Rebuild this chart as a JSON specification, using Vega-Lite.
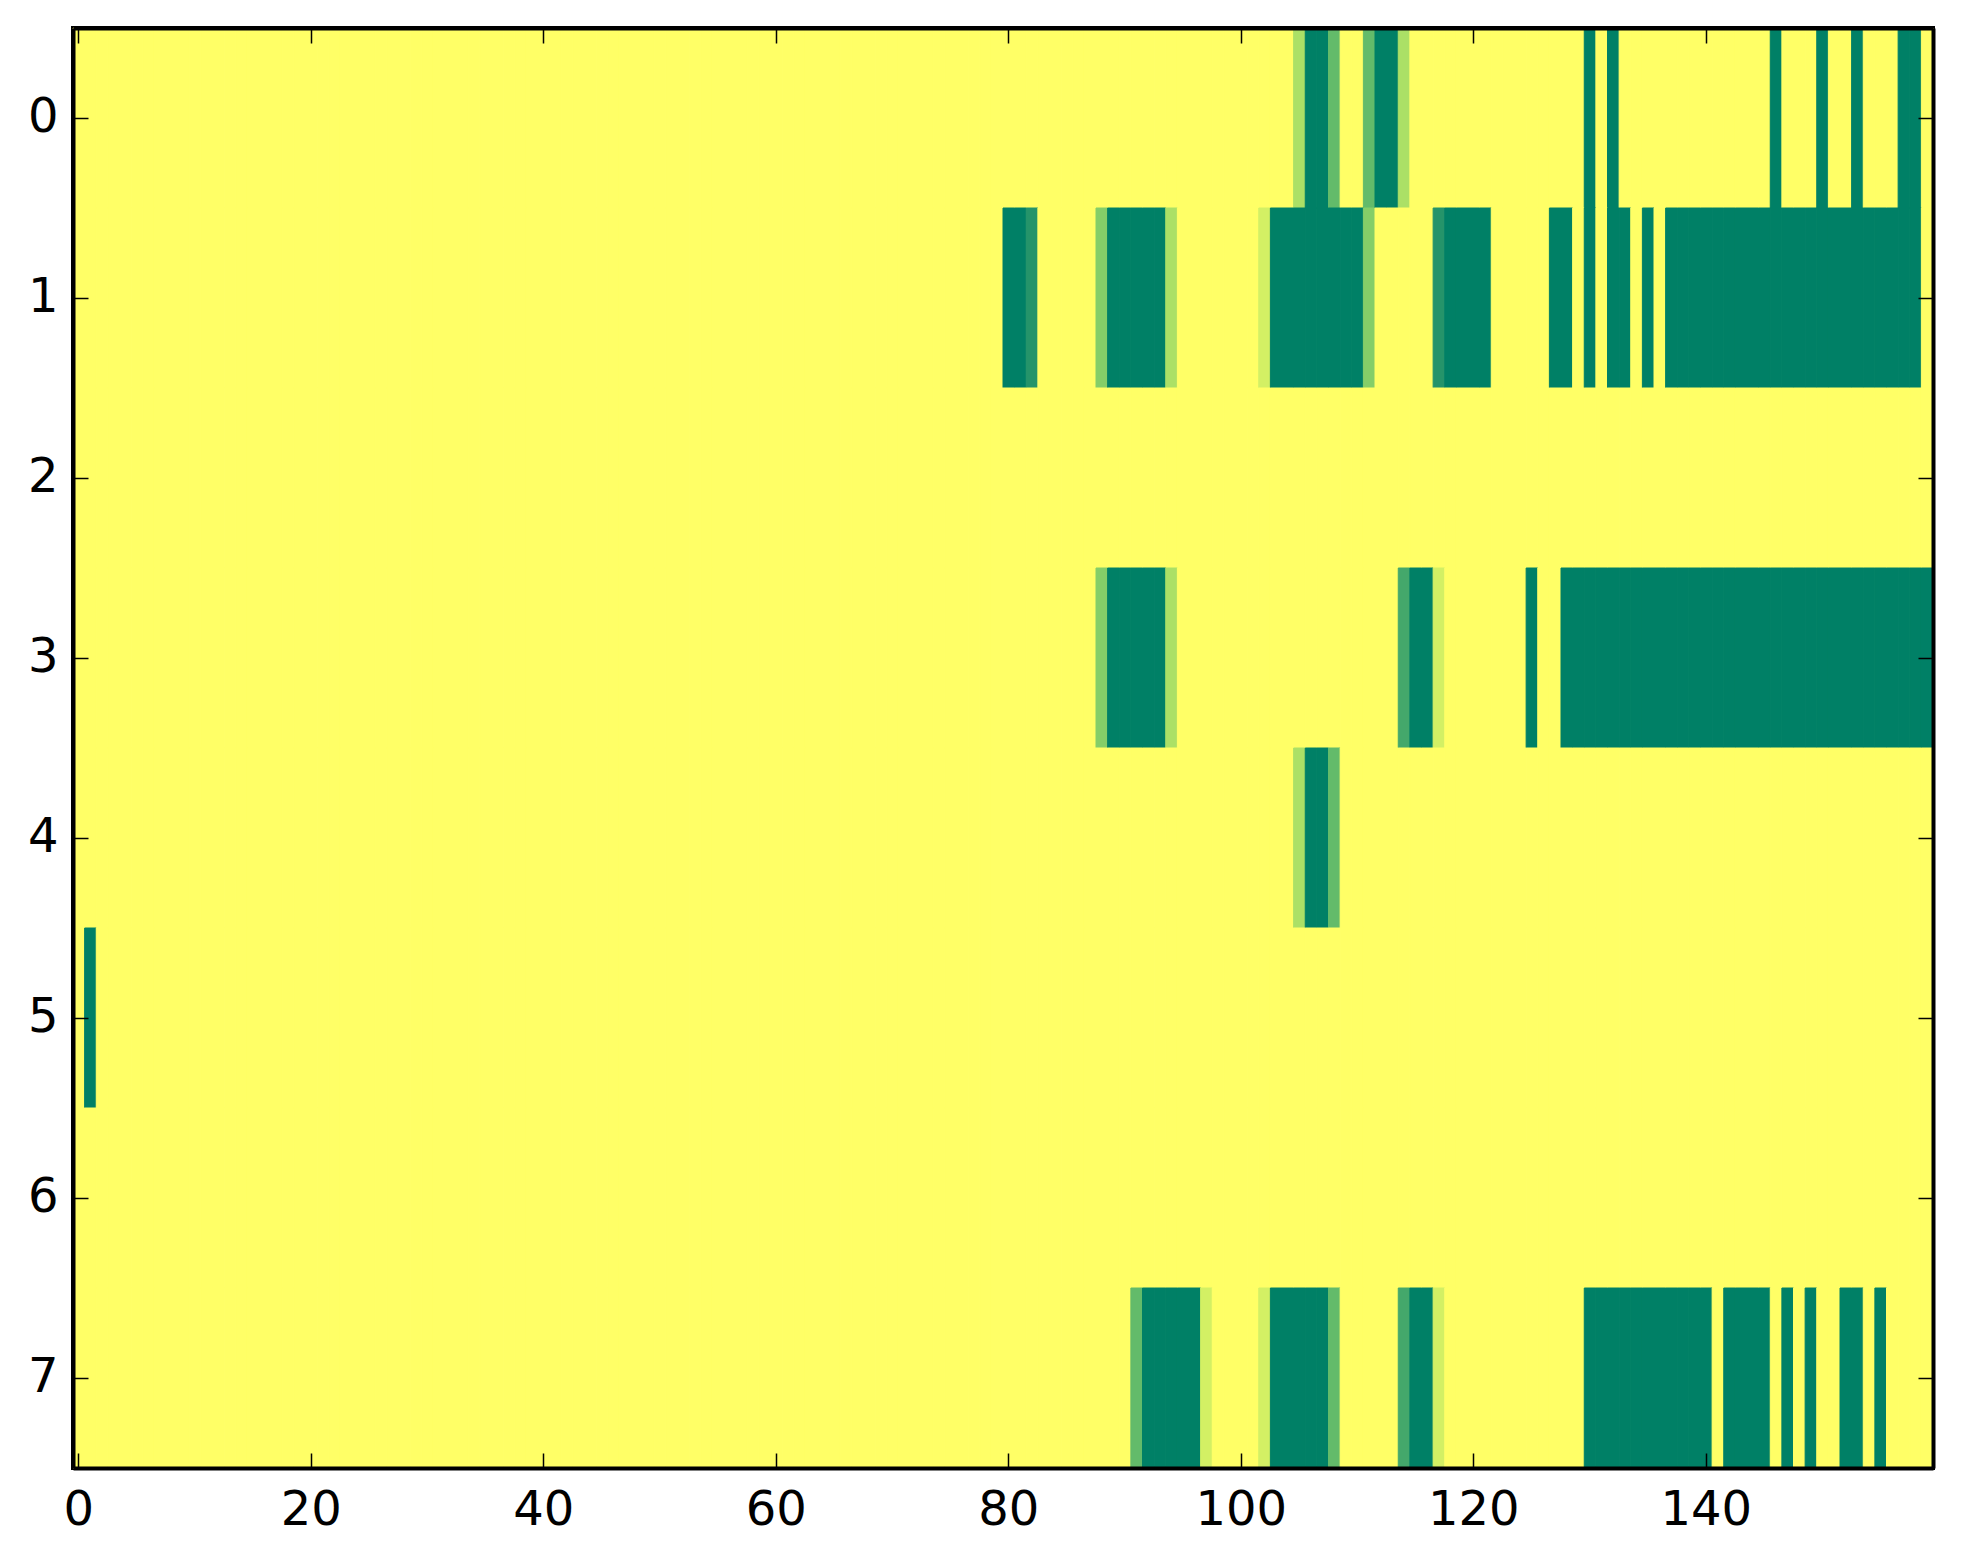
{
  "$schema": "https://vega.github.io/schema/vega-lite/v6.json",
  "width": 1860,
  "height": 1440,
  "autosize": {"type": "none"},
  "padding": {"left": 73, "top": 28, "right": 30, "bottom": 96},
  "background": "white",
  "data": {
    "format": {"type": "csv"},
    "values": "r,0,1,2,3,4,5,6,7,8,9,10,11,12,13,14,15,16,17,18,19,20,21,22,23,24,25,26,27,28,29,30,31,32,33,34,35,36,37,38,39,40,41,42,43,44,45,46,47,48,49,50,51,52,53,54,55,56,57,58,59,60,61,62,63,64,65,66,67,68,69,70,71,72,73,74,75,76,77,78,79,80,81,82,83,84,85,86,87,88,89,90,91,92,93,94,95,96,97,98,99,100,101,102,103,104,105,106,107,108,109,110,111,112,113,114,115,116,117,118,119,120,121,122,123,124,125,126,127,128,129,130,131,132,133,134,135,136,137,138,139,140,141,142,143,144,145,146,147,148,149,150,151,152,153,154,155,156,157,158,159\n0,1,1,1,1,1,1,1,1,1,1,1,1,1,1,1,1,1,1,1,1,1,1,1,1,1,1,1,1,1,1,1,1,1,1,1,1,1,1,1,1,1,1,1,1,1,1,1,1,1,1,1,1,1,1,1,1,1,1,1,1,1,1,1,1,1,1,1,1,1,1,1,1,1,1,1,1,1,1,1,1,1,1,1,1,1,1,1,1,1,1,1,1,1,1,1,1,1,1,1,1,1,1,1,1,1,0.714,0,0,0.429,1,1,0.429,0,0,0.714,1,1,1,1,1,1,1,1,1,1,1,1,1,1,1,0,1,0,1,1,1,1,1,1,1,1,1,1,1,1,1,0,1,1,1,0,1,1,0,1,1,1,0,0,1\n1,1,1,1,1,1,1,1,1,1,1,1,1,1,1,1,1,1,1,1,1,1,1,1,1,1,1,1,1,1,1,1,1,1,1,1,1,1,1,1,1,1,1,1,1,1,1,1,1,1,1,1,1,1,1,1,1,1,1,1,1,1,1,1,1,1,1,1,1,1,1,1,1,1,1,1,1,1,1,1,1,0,0,0.143,1,1,1,1,1,0.571,0,0,0,0,0,0.714,1,1,1,1,1,1,1,0.857,0,0,0,0,0,0,0,0,0.571,1,1,1,1,1,0.143,0,0,0,0,1,1,1,1,1,0,0,1,0,1,0,0,1,0,1,0,0,0,0,0,0,0,0,0,0,0,0,0,0,0,0,0,0,0,0,0,0,1\n2,1,1,1,1,1,1,1,1,1,1,1,1,1,1,1,1,1,1,1,1,1,1,1,1,1,1,1,1,1,1,1,1,1,1,1,1,1,1,1,1,1,1,1,1,1,1,1,1,1,1,1,1,1,1,1,1,1,1,1,1,1,1,1,1,1,1,1,1,1,1,1,1,1,1,1,1,1,1,1,1,1,1,1,1,1,1,1,1,1,1,1,1,1,1,1,1,1,1,1,1,1,1,1,1,1,1,1,1,1,1,1,1,1,1,1,1,1,1,1,1,1,1,1,1,1,1,1,1,1,1,1,1,1,1,1,1,1,1,1,1,1,1,1,1,1,1,1,1,1,1,1,1,1,1,1,1,1,1,1,1\n3,1,1,1,1,1,1,1,1,1,1,1,1,1,1,1,1,1,1,1,1,1,1,1,1,1,1,1,1,1,1,1,1,1,1,1,1,1,1,1,1,1,1,1,1,1,1,1,1,1,1,1,1,1,1,1,1,1,1,1,1,1,1,1,1,1,1,1,1,1,1,1,1,1,1,1,1,1,1,1,1,1,1,1,1,1,1,1,1,0.571,0,0,0,0,0,0.714,1,1,1,1,1,1,1,1,1,1,1,1,1,1,1,1,1,1,1,0.286,0,0,0.857,1,1,1,1,1,1,1,0,1,1,0,0,0,0,0,0,0,0,0,0,0,0,0,0,0,0,0,0,0,0,0,0,0,0,0,0,0,0,0,0,0,0\n4,1,1,1,1,1,1,1,1,1,1,1,1,1,1,1,1,1,1,1,1,1,1,1,1,1,1,1,1,1,1,1,1,1,1,1,1,1,1,1,1,1,1,1,1,1,1,1,1,1,1,1,1,1,1,1,1,1,1,1,1,1,1,1,1,1,1,1,1,1,1,1,1,1,1,1,1,1,1,1,1,1,1,1,1,1,1,1,1,1,1,1,1,1,1,1,1,1,1,1,1,1,1,1,1,1,0.714,0,0,0.429,1,1,1,1,1,1,1,1,1,1,1,1,1,1,1,1,1,1,1,1,1,1,1,1,1,1,1,1,1,1,1,1,1,1,1,1,1,1,1,1,1,1,1,1,1,1,1,1,1,1,1\n5,1,0,1,1,1,1,1,1,1,1,1,1,1,1,1,1,1,1,1,1,1,1,1,1,1,1,1,1,1,1,1,1,1,1,1,1,1,1,1,1,1,1,1,1,1,1,1,1,1,1,1,1,1,1,1,1,1,1,1,1,1,1,1,1,1,1,1,1,1,1,1,1,1,1,1,1,1,1,1,1,1,1,1,1,1,1,1,1,1,1,1,1,1,1,1,1,1,1,1,1,1,1,1,1,1,1,1,1,1,1,1,1,1,1,1,1,1,1,1,1,1,1,1,1,1,1,1,1,1,1,1,1,1,1,1,1,1,1,1,1,1,1,1,1,1,1,1,1,1,1,1,1,1,1,1,1,1,1,1,1\n6,1,1,1,1,1,1,1,1,1,1,1,1,1,1,1,1,1,1,1,1,1,1,1,1,1,1,1,1,1,1,1,1,1,1,1,1,1,1,1,1,1,1,1,1,1,1,1,1,1,1,1,1,1,1,1,1,1,1,1,1,1,1,1,1,1,1,1,1,1,1,1,1,1,1,1,1,1,1,1,1,1,1,1,1,1,1,1,1,1,1,1,1,1,1,1,1,1,1,1,1,1,1,1,1,1,1,1,1,1,1,1,1,1,1,1,1,1,1,1,1,1,1,1,1,1,1,1,1,1,1,1,1,1,1,1,1,1,1,1,1,1,1,1,1,1,1,1,1,1,1,1,1,1,1,1,1,1,1,1,1\n7,1,1,1,1,1,1,1,1,1,1,1,1,1,1,1,1,1,1,1,1,1,1,1,1,1,1,1,1,1,1,1,1,1,1,1,1,1,1,1,1,1,1,1,1,1,1,1,1,1,1,1,1,1,1,1,1,1,1,1,1,1,1,1,1,1,1,1,1,1,1,1,1,1,1,1,1,1,1,1,1,1,1,1,1,1,1,1,1,1,1,1,0.429,0,0,0,0,0,0.857,1,1,1,1,0.857,0,0,0,0,0,0.429,1,1,1,1,1,0.286,0,0,0.857,1,1,1,1,1,1,1,1,1,1,1,1,0,0,0,0,0,0,0,0,0,0,0,1,0,0,0,0,1,0,1,0,1,1,0,0,1,0,1,1,1,1"
  },
  "transform": [
    {
      "fold": ["0","1","2","3","4","5","6","7","8","9","10","11","12","13","14","15","16","17","18","19","20","21","22","23","24","25","26","27","28","29","30","31","32","33","34","35","36","37","38","39","40","41","42","43","44","45","46","47","48","49","50","51","52","53","54","55","56","57","58","59","60","61","62","63","64","65","66","67","68","69","70","71","72","73","74","75","76","77","78","79","80","81","82","83","84","85","86","87","88","89","90","91","92","93","94","95","96","97","98","99","100","101","102","103","104","105","106","107","108","109","110","111","112","113","114","115","116","117","118","119","120","121","122","123","124","125","126","127","128","129","130","131","132","133","134","135","136","137","138","139","140","141","142","143","144","145","146","147","148","149","150","151","152","153","154","155","156","157","158","159"],
      "as": ["col", "v"]
    }
  ],
  "layer": [
    {
      "mark": {"type": "rect", "strokeWidth": 1},
      "encoding": {
        "x": {
          "field": "col",
          "type": "ordinal",
          "sort": null,
          "scale": {"paddingInner": 0, "paddingOuter": 0},
          "axis": {
            "orient": "bottom",
            "title": null,
            "values": ["0","20","40","60","80","100","120","140"],
            "domain": true,
            "domainColor": "black",
            "domainWidth": 4,
            "grid": false,
            "tickSize": -15,
            "tickWidth": 1.5,
            "tickColor": "black",
            "labelAngle": 0,
            "labelOverlap": false,
            "labelFont": "DejaVu Sans",
            "labelFontSize": 48,
            "labelColor": "black",
            "labelPadding": 33
          }
        },
        "y": {
          "field": "r",
          "type": "ordinal",
          "scale": {"paddingInner": 0, "paddingOuter": 0},
          "axis": {
            "orient": "left",
            "title": null,
            "domain": true,
            "domainColor": "black",
            "domainWidth": 4,
            "grid": false,
            "tickSize": -15,
            "tickWidth": 1.5,
            "tickColor": "black",
            "labelOverlap": false,
            "labelFont": "DejaVu Sans",
            "labelFontSize": 48,
            "labelColor": "black",
            "labelPadding": 30
          }
        },
        "fill": {
          "field": "v",
          "type": "quantitative",
          "scale": {"domain": [0, 1], "range": ["#008066", "#ffff66"]},
          "legend": null
        },
        "stroke": {
          "field": "v",
          "type": "quantitative",
          "scale": {"domain": [0, 1], "range": ["#008066", "#ffff66"]},
          "legend": null
        }
      }
    },
    {
      "mark": {"type": "rect", "opacity": 0},
      "encoding": {
        "x": {
          "field": "col",
          "type": "ordinal",
          "sort": null,
          "axis": {
            "orient": "top",
            "title": null,
            "values": ["0","20","40","60","80","100","120","140"],
            "domain": true,
            "domainColor": "black",
            "domainWidth": 4,
            "grid": false,
            "labels": false,
            "tickSize": -15,
            "tickWidth": 1.5,
            "tickColor": "black"
          }
        },
        "y": {
          "field": "r",
          "type": "ordinal",
          "axis": {
            "orient": "right",
            "title": null,
            "domain": true,
            "domainColor": "black",
            "domainWidth": 4,
            "grid": false,
            "labels": false,
            "tickSize": -15,
            "tickWidth": 1.5,
            "tickColor": "black"
          }
        }
      }
    }
  ],
  "resolve": {"axis": {"x": "independent", "y": "independent"}},
  "config": {"view": {"stroke": "black", "strokeWidth": 4}}
}
